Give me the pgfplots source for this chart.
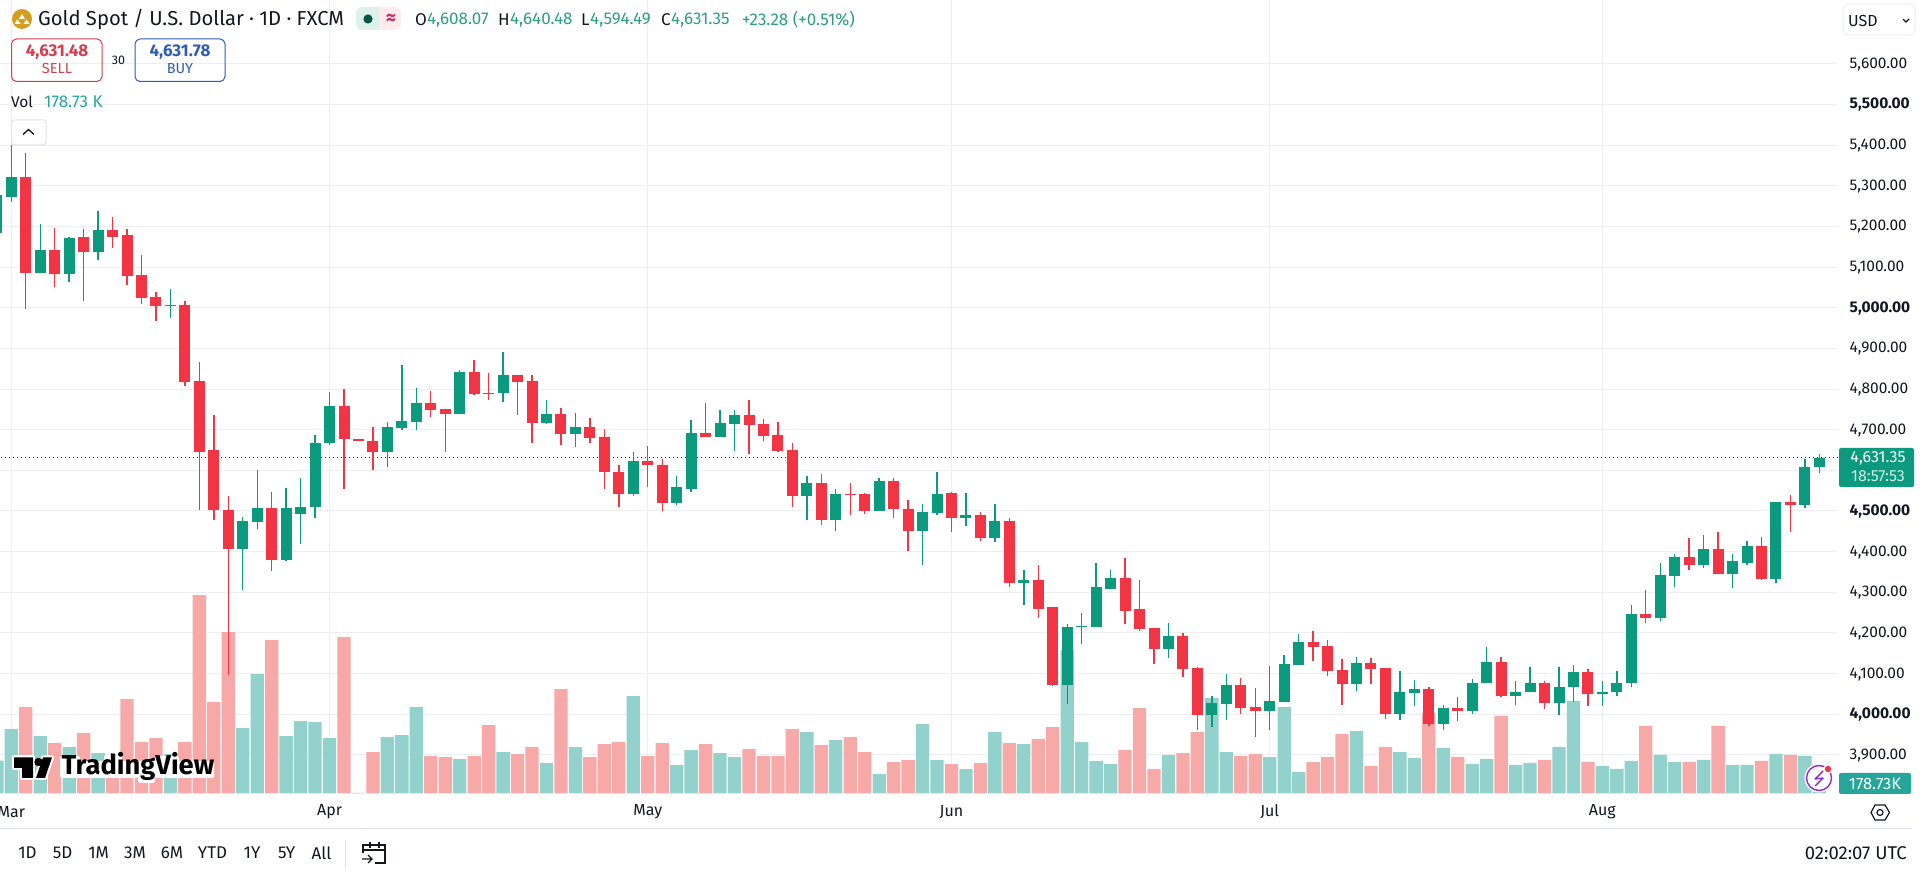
\documentclass[border=0pt]{standalone}
\usepackage{fontspec}
\setmainfont{Fira Sans}
\usepackage{pgfplots}
\usepackage{pgfplotstable}
\pgfplotsset{compat=1.18}

\definecolor{upc}{HTML}{0C9A7E}
\definecolor{downc}{HTML}{F23545}
\definecolor{upvol}{HTML}{93D2CC}
\definecolor{downvol}{HTML}{F7A9A7}
\definecolor{gridc}{HTML}{ECEEF2}
\definecolor{ink}{HTML}{131722}
\definecolor{tagvol}{HTML}{26A69A}
\definecolor{hdrc}{HTML}{2B9E88}
\definecolor{buyc}{HTML}{2E5DB8}
\definecolor{sellc}{HTML}{D2404F}
\definecolor{linec}{HTML}{E0E3EB}
\definecolor{gold}{HTML}{D39E1F}
\definecolor{zap}{HTML}{8E2BC9}

% daily candles: index, open, high, low, close, volume (K)
\pgfplotstableread{
i o h l c v
-1 5184 5290 5170 5276 587
0 5273 5401 5261 5322 1152
2 5086 5207 5086 5141 1026
4 5083 5175 5064 5171 829
6 5137 5239 5117 5190 722
11 5005 5046 4975 5006 704
16 4406 4485 4306 4475 1170
17 4472 4602 4456 4507 2136
19 4379 4556 4377 4507 1026
20 4492 4580 4418 4511 1295
21 4509 4688 4482 4668 1277
22 4666 4793 4662 4759 991
26 4646 4720 4607 4707 1008
27 4705 4859 4700 4722 1044
28 4720 4803 4698 4766 1545
31 4739 4847 4739 4842 615
34 4789 4891 4769 4835 740
37 4717 4773 4715 4739 543
39 4690 4742 4658 4707 829
43 4543 4646 4538 4622 1742
46 4519 4587 4514 4558 507
47 4555 4724 4546 4693 776
49 4683 4749 4683 4717 722
50 4715 4749 4648 4737 650
55 4538 4585 4479 4568 1098
57 4479 4553 4452 4543 955
60 4501 4580 4501 4573 346
63 4452 4516 4367 4497 1241
64 4494 4595 4489 4543 597
66 4483 4545 4464 4491 436
68 4434 4518 4424 4476 1098
70 4324 4356 4270 4331 883
73 4072 4221 4025 4214 2566
74 4214 4248 4172 4216 919
75 4214 4371 4214 4312 579
76 4309 4356 4307 4334 525
80 4160 4224 4138 4192 686
83 3998 4045 3968 4028 1707
84 4025 4099 3986 4072 740
87 4008 4118 3961 4032 650
88 4030 4145 4030 4123 1545
89 4121 4197 4121 4177 382
93 4074 4140 4057 4126 1116
96 4001 4106 3986 4055 740
97 4052 4084 4020 4062 633
99 3976 4024 3961 4015 817
101 4007 4088 4000 4078 531
102 4076 4166 4076 4129 621
104 4046 4083 4022 4056 513
105 4054 4117 4054 4078 549
107 4027 4117 3998 4068 835
108 4066 4120 4029 4103 1659
110 4049 4081 4020 4056 495
111 4054 4107 4044 4078 442
112 4076 4268 4066 4246 585
114 4237 4371 4229 4342 692
115 4339 4395 4312 4388 567
117 4366 4442 4361 4407 603
119 4346 4395 4310 4376 513
120 4373 4427 4366 4415 513
122 4332 4522 4324 4522 710
124 4515 4629 4507 4607 674
125 4608.07 4640.48 4594.49 4631.35 178.73
}\upbars

\pgfplotstableread{
i o h l c v
1 5322 5380 4997 5086 1545
3 5141 5195 5051 5083 901
5 5173 5193 5016 5137 1080
7 5190 5224 5148 5175 600
8 5178 5193 5055 5078 1689
9 5080 5129 5010 5024 919
10 5026 5038 4968 5005 991
12 5006 5016 4808 4818 919
13 4820 4867 4502 4646 3550
14 4649 4737 4478 4502 1635
15 4502 4536 4097 4406 2888
18 4507 4546 4352 4379 2745
23 4759 4801 4553 4676 2799
24 4678 4678 4671 4671 12
25 4673 4707 4600 4646 740
29 4766 4796 4732 4749 668
30 4752 4752 4644 4739 650
32 4842 4872 4785 4788 668
33 4791 4840 4773 4789 1223
35 4835 4835 4737 4818 704
36 4820 4835 4668 4717 829
38 4739 4754 4663 4690 1868
40 4707 4729 4668 4680 650
41 4683 4702 4555 4595 883
42 4597 4612 4511 4543 919
44 4622 4661 4560 4612 668
45 4614 4629 4501 4519 901
48 4693 4766 4683 4683 883
51 4737 4773 4639 4712 794
52 4715 4727 4671 4685 668
53 4688 4720 4644 4648 668
54 4651 4666 4511 4538 1152
56 4568 4590 4465 4479 865
58 4543 4570 4489 4541 1008
59 4543 4545 4492 4501 740
61 4573 4580 4482 4504 561
62 4506 4528 4401 4452 597
65 4544 4547 4449 4483 525
67 4491 4498 4427 4434 543
69 4476 4483 4314 4324 901
71 4331 4366 4238 4260 973
72 4263 4263 4070 4072 1187
77 4334 4385 4221 4255 776
78 4258 4331 4204 4209 1528
79 4211 4213 4123 4160 436
81 4192 4199 4091 4111 722
82 4113 4116 3961 3998 1098
85 4072 4089 4001 4015 668
86 4018 4064 3944 4008 704
90 4177 4204 4130 4165 561
91 4167 4182 4094 4106 650
92 4108 4135 4023 4074 1062
94 4126 4138 4074 4111 489
95 4113 4113 3988 4001 829
98 4061 4066 3971 3976 1444
100 4015 4042 3983 4007 656
103 4129 4142 4042 4046 1390
106 4078 4083 4012 4027 603
109 4103 4112 4021 4049 567
113 4246 4305 4224 4237 1211
116 4388 4434 4356 4366 567
118 4407 4449 4344 4346 1211
121 4415 4437 4331 4332 585
123 4522 4539 4449 4515 692
}\downbars

\pgfplotsset{
  pane/.style={
    scale only axis, width=1838pt, height=793.5pt,
    at={(0pt,81.5pt)}, anchor=south west,
    xmin=-0.783, xmax=126.29,
  },
}

\newcommand{\fs}[1]{\fontsize{#1}{#1}\selectfont}
% one candle colour: wicks, then bodies
\newcommand{\candles}[2]{%
  \addplot[forget plot, draw=none, mark=none,
    error bars/.cd, y dir=plus, y explicit, error mark=none,
    error bar style={line width=1.4pt, draw=#2}]
    table[x=i, y=l, y error plus expr=\thisrow{h}-\thisrow{l}] {#1};
  \addplot[forget plot, draw=none, mark=none,
    error bars/.cd, y dir=plus, y explicit, error mark=none,
    error bar style={line width=11pt, draw=#2}]
    table[x=i, y expr={min(\thisrow{o},\thisrow{c})},
      y error plus expr={abs(\thisrow{c}-\thisrow{o})}] {#1};
}
\newcommand{\txt}[5][west]{\node[anchor=#1, inner sep=0pt, text=#3] at (#2,{875-#4}) {#5}}
\newcommand{\wbox}[4]{\fill[white, rounded corners=2pt] (#1,{875-#2}) rectangle (#3,{875-#4});}

\begin{document}
\begin{tikzpicture}[x=1pt,y=1pt]
\useasboundingbox (0,0) rectangle (1920,875);
\fill[white] (0,0) rectangle (1920,875);

% grid and price/time scales
\begin{axis}[pane,
    ymin=3805.2, ymax=5756.8,
    axis line style={draw=none}, tick style={draw=none},
    xmajorgrids, ymajorgrids,
    grid style={gridc, line width=1pt},
    xtick={0,22,44,65,87,110},
    xticklabels={Mar,Apr,May,Jun,Jul,Aug},
    x tick label style={font=\fs{16}, text=ink, anchor=center, inner sep=0pt, yshift=-18.5pt},
    ytick={3900,4000,4100,4200,4300,4400,4500,4600,4700,4800,4900,5000,5100,5200,5300,5400,5500,5600},
    yticklabels={{3,900.00},{\bfseries 4,000.00},{4,100.00},{4,200.00},{4,300.00},{4,400.00},{\bfseries 4,500.00},{},{4,700.00},{4,800.00},{4,900.00},{\bfseries 5,000.00},{5,100.00},{5,200.00},{5,300.00},{5,400.00},{\bfseries 5,500.00},{5,600.00}},
    yticklabel pos=right,
    y tick label style={font=\fs{15.5}, text=ink, anchor=west, inner sep=0pt, xshift=11.5pt, yshift=-0.5pt},
]
\end{axis}

% volume
\begin{axis}[pane, hide axis, ymin=0, ymax=14204]
\addplot[ybar, bar width=13.3pt, bar shift=0pt, fill=upvol, draw=none] table[x=i, y=v] {\upbars};
\addplot[ybar, bar width=13.3pt, bar shift=0pt, fill=downvol, draw=none] table[x=i, y=v] {\downbars};
\end{axis}

% candles and last price
\begin{axis}[pane, hide axis, ymin=3805.2, ymax=5756.8]
\addplot[forget plot, color=black!65!upc, line width=1pt, dash pattern=on 1pt off 3pt] coordinates {(-1,4631.35) (127,4631.35)};
\candles{\upbars}{upc}
\candles{\downbars}{downc}
\end{axis}

% header
\fill[gold] (22,{875-19}) circle (10);
\fill[white] (22,{875-14}) -- (25,{875-19}) -- (19,{875-19}) -- cycle;
\fill[white] (17.5,{875-19.5}) -- (20.5,{875-24}) -- (14.5,{875-24}) -- cycle;
\fill[white] (26.5,{875-19.5}) -- (29.5,{875-24}) -- (23.5,{875-24}) -- cycle;
\txt{38}{ink}{20}{\fs{20.2}Gold Spot / U.S. Dollar · 1D · FXCM};
\fill[upc!14, rounded corners=6pt] (356,{875-7}) rectangle (385,{875-30});
\fill[downc!10, rounded corners=6pt] (378,{875-7}) rectangle (401,{875-30});
\fill[upc!14] (375,{875-7}) rectangle (379,{875-30});
\fill[black!45!upc] (368,{875-19}) circle (4.6);
\txt[center]{391}{black!30!magenta!75!red}{19}{\fs{20}\bfseries ≈};
\txt{415}{ink}{20}{\fs{17}O};
\txt{427}{hdrc}{20}{\fs{17}4,608.07};
\txt{498}{ink}{20}{\fs{17}H};
\txt{510}{hdrc}{20}{\fs{17}4,640.48};
\txt{581}{ink}{20}{\fs{17}L};
\txt{590}{hdrc}{20}{\fs{17}4,594.49};
\txt{661}{ink}{20}{\fs{17}C};
\txt{671}{hdrc}{20}{\fs{17}4,631.35};
\txt{742}{hdrc}{20}{\fs{17}+23.28 (+0.51\%)};

% sell / buy
\draw[sellc, rounded corners=5pt, line width=1pt] (11.5,{875-39}) rectangle (102,{875-81.5});
\txt[center]{57}{sellc}{52}{\fs{17}\bfseries 4,631.48};
\txt[center]{57}{sellc}{69}{\fs{14.5}SELL};
\txt[center]{118.5}{ink}{60}{\fs{12.5}30};
\draw[buyc, rounded corners=5pt, line width=1pt] (135,{875-39}) rectangle (225,{875-81.5});
\txt[center]{180}{buyc}{52}{\fs{17}\bfseries 4,631.78};
\txt[center]{180}{buyc}{69}{\fs{14.5}BUY};
\txt{11}{ink}{102}{\fs{15.5}Vol};
\txt{44}{tagvol}{102}{\fs{17}178.73 K};
\draw[linec, fill=white, rounded corners=3pt, line width=1pt] (11.5,{875-120}) rectangle (46,{875-145});
\draw[ink, line width=1.3pt] (23,{875-134.5}) -- (28.5,{875-129.5}) -- (34,{875-134.5});

% USD selector
\draw[gridc, fill=white, rounded corners=5pt, line width=1pt] (1843,{875-4}) rectangle (1915,{875-35});
\txt{1848}{ink}{21}{\fs{16}USD};
\draw[ink, line width=1.2pt] (1903,{875-19}) -- (1906,{875-22}) -- (1909,{875-19});

% last price and volume tags
\fill[upc, rounded corners=2pt] (1839,{875-448}) rectangle (1914,{875-487});
\txt[center]{1878}{white}{458}{\fs{16}4,631.35};
\txt[center]{1878}{upc!18}{476}{\fs{16}18:57:53};
\fill[tagvol, rounded corners=2pt] (1839,{875-773}) rectangle (1911,{875-794});
\txt[center]{1875}{white}{784}{\fs{16.5}178.73K};

% watermark
\wbox{60}{761}{214}{778}
\wbox{60}{756}{80}{763}
\wbox{104}{755}{122}{763}
\wbox{154}{756}{179}{763}
\wbox{138}{776}{155}{783}
\draw[white, line width=4pt, line join=round, fill=white] (14,{875-757.5}) -- (33,{875-757.5}) -- (33,{875-778}) -- (22,{875-778}) -- (22,{875-768}) -- (14,{875-768}) -- cycle;
\draw[white, line width=4pt, line join=round, fill=white] (43,{875-757.5}) -- (52,{875-757.5}) -- (45,{875-778}) -- (36,{875-778}) -- cycle;
\fill[black] (14,{875-757.5}) -- (33,{875-757.5}) -- (33,{875-778}) -- (22,{875-778}) -- (22,{875-768}) -- (14,{875-768}) -- cycle;
\fill[black] (38.5,{875-762}) circle (4.2);
\fill[black] (43,{875-757.5}) -- (52,{875-757.5}) -- (45,{875-778}) -- (36,{875-778}) -- cycle;
\node[anchor=base west, inner sep=0pt, text=black] at (61.5,{875-775}) {\fs{27.3}\bfseries TradingView};

% activity icon
\fill[white] (1819,{875-778}) circle (14.5);
\draw[zap, line width=1.4pt] (1819,{875-778}) circle (12.5);
\draw[zap, line width=1.4pt, line join=round] (1823,{875-771}) -- (1815,{875-779}) -- (1823,{875-778}) -- (1815,{875-786});
\fill[white] (1828,{875-769}) circle (4.6);
\fill[downc] (1828,{875-769}) circle (3.2);

% time scale strip
\draw[linec, line width=1pt] (0,{875-829}) -- (1912,{875-829});
\draw[ink, line width=1.2pt] (1875,{875-805}) -- (1885,{875-805}) -- (1889.5,{875-812.5}) -- (1885,{875-820}) -- (1875,{875-820}) -- (1871,{875-812.5}) -- cycle;
\draw[ink, line width=1.2pt] (1880,{875-812.5}) circle (3);

% range buttons
\foreach \lab/\xc in {1D/27.5,5D/62.5,1M/98.6,3M/135,6M/172,YTD/212.5,1Y/252,5Y/286.6,All/321.5}{
  \node[anchor=center, inner sep=0pt, text=ink] at (\xc,{875-853}) {\fs{17}\lab};
}
\draw[linec, line width=1pt] (345,{875-840}) -- (345,{875-868});
\draw[ink, line width=1.1pt] (363,{875-853}) -- (363,{875-845}) -- (385,{875-845}) -- (385,{875-863}) -- (375,{875-863});
\draw[ink, line width=1.1pt] (363,{875-850}) -- (385,{875-850});
\draw[ink, line width=1.1pt] (370,{875-842}) -- (370,{875-848}) (379,{875-842}) -- (379,{875-848});
\draw[ink, line width=1.1pt] (362,{875-859}) -- (372,{875-859}) (368,{875-855}) -- (372,{875-859}) -- (368,{875-863});
\txt[east]{1907}{ink}{853}{\fs{18.5}02:02:07 UTC};
\end{tikzpicture}
\end{document}
